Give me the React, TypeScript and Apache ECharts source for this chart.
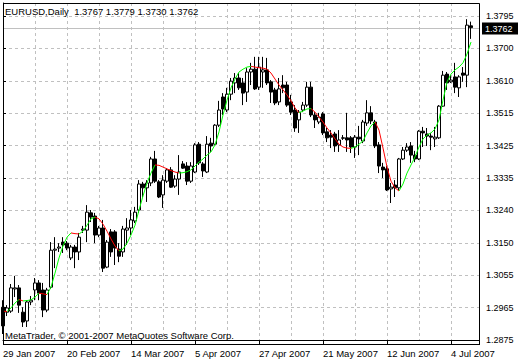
import React, { useEffect, useRef } from 'react';
import * as echarts from 'echarts';

const SYMBOL = 'EURUSD,Daily';
const COPYRIGHT = 'MetaTrader, \u00a9 2001-2007 MetaQuotes Software Corp.';

const opens = [
  1.2968, 1.2954, 1.2957, 1.3020, 1.3023, 1.2954, 1.2929, 1.2983, 1.3017, 1.3037,
  1.3017, 1.2960, 1.3025, 1.3130, 1.3136, 1.3153, 1.3150, 1.3108, 1.3139, 1.3125,
  1.3187, 1.3187, 1.3236, 1.3227, 1.3173, 1.3193, 1.3082, 1.3182, 1.3182, 1.3133,
  1.3125, 1.3187, 1.3193, 1.3213, 1.3244, 1.3318, 1.3307, 1.3321, 1.3389, 1.3324,
  1.3287, 1.3326, 1.3358, 1.3312, 1.3332, 1.3375, 1.3369, 1.3326, 1.3352, 1.3431,
  1.3375, 1.3352, 1.3434, 1.3431, 1.3485, 1.3565, 1.3528, 1.3573, 1.3605, 1.3619,
  1.3605, 1.3579, 1.3636, 1.3644, 1.3593, 1.3636, 1.3642, 1.3608, 1.3585, 1.3551,
  1.3599, 1.3599, 1.3551, 1.3528, 1.3500, 1.3528, 1.3542, 1.3593, 1.3514, 1.3494,
  1.3517, 1.3466, 1.3457, 1.3460, 1.3429, 1.3449, 1.3449, 1.3449, 1.3423, 1.3451,
  1.3440, 1.3491, 1.3520, 1.3494, 1.3429, 1.3366, 1.3361, 1.3304, 1.3315, 1.3307,
  1.3389, 1.3414, 1.3426, 1.3400, 1.3389, 1.3468, 1.3460, 1.3454, 1.3446, 1.3449,
  1.3539, 1.3630, 1.3608, 1.3622, 1.3591, 1.3633, 1.3627, 1.3767,
];
const highs = [
  1.2988, 1.2974, 1.3034, 1.3057, 1.3031, 1.2968, 1.2988, 1.3000, 1.3051, 1.3045,
  1.3037, 1.3023, 1.3153, 1.3167, 1.3150, 1.3167, 1.3156, 1.3145, 1.3145, 1.3179,
  1.3199, 1.3258, 1.3244, 1.3236, 1.3199, 1.3216, 1.3159, 1.3190, 1.3187, 1.3150,
  1.3199, 1.3221, 1.3244, 1.3253, 1.3329, 1.3324, 1.3329, 1.3395, 1.3412, 1.3329,
  1.3343, 1.3363, 1.3366, 1.3343, 1.3400, 1.3383, 1.3380, 1.3380, 1.3434, 1.3437,
  1.3380, 1.3454, 1.3449, 1.3488, 1.3554, 1.3576, 1.3591, 1.3619, 1.3633, 1.3633,
  1.3619, 1.3647, 1.3662, 1.3679, 1.3679, 1.3679, 1.3676, 1.3613, 1.3591, 1.3619,
  1.3627, 1.3608, 1.3571, 1.3542, 1.3528, 1.3551, 1.3608, 1.3608, 1.3522, 1.3520,
  1.3522, 1.3477, 1.3471, 1.3466, 1.3471, 1.3457, 1.3520, 1.3454, 1.3457, 1.3483,
  1.3500, 1.3556, 1.3539, 1.3500, 1.3437, 1.3378, 1.3369, 1.3321, 1.3329, 1.3392,
  1.3423, 1.3434, 1.3437, 1.3412, 1.3471, 1.3480, 1.3477, 1.3463, 1.3480, 1.3542,
  1.3639, 1.3636, 1.3627, 1.3662, 1.3627, 1.3650, 1.3786, 1.3779,
];
const lows = [
  1.2892, 1.2943, 1.2952, 1.2997, 1.2952, 1.2912, 1.2912, 1.2974, 1.2988, 1.2988,
  1.2940, 1.2954, 1.3020, 1.3079, 1.3125, 1.3122, 1.3130, 1.3102, 1.3079, 1.3102,
  1.3179, 1.3153, 1.3210, 1.3150, 1.3167, 1.3068, 1.3079, 1.3111, 1.3088, 1.3096,
  1.3111, 1.3145, 1.3173, 1.3207, 1.3236, 1.3281, 1.3267, 1.3312, 1.3321, 1.3278,
  1.3250, 1.3321, 1.3307, 1.3307, 1.3287, 1.3361, 1.3315, 1.3321, 1.3349, 1.3372,
  1.3338, 1.3349, 1.3409, 1.3429, 1.3480, 1.3514, 1.3522, 1.3556, 1.3576, 1.3585,
  1.3542, 1.3551, 1.3599, 1.3585, 1.3585, 1.3591, 1.3599, 1.3548, 1.3542, 1.3542,
  1.3576, 1.3537, 1.3514, 1.3466, 1.3463, 1.3522, 1.3537, 1.3508, 1.3477, 1.3488,
  1.3457, 1.3437, 1.3420, 1.3409, 1.3409, 1.3443, 1.3409, 1.3406, 1.3392, 1.3400,
  1.3434, 1.3483, 1.3488, 1.3420, 1.3349, 1.3335, 1.3298, 1.3264, 1.3281, 1.3301,
  1.3386, 1.3409, 1.3378, 1.3380, 1.3386, 1.3423, 1.3426, 1.3414, 1.3423, 1.3446,
  1.3537, 1.3585, 1.3605, 1.3576, 1.3565, 1.3608, 1.3593, 1.3730,
];
const closes = [
  1.2915, 1.2966, 1.3023, 1.3023, 1.2974, 1.2926, 1.2983, 1.2988, 1.3037, 1.3008,
  1.2960, 1.3017, 1.3130, 1.3133, 1.3139, 1.3145, 1.3136, 1.3139, 1.3125, 1.3167,
  1.3190, 1.3238, 1.3224, 1.3173, 1.3193, 1.3079, 1.3153, 1.3125, 1.3136, 1.3113,
  1.3190, 1.3193, 1.3216, 1.3238, 1.3318, 1.3307, 1.3321, 1.3389, 1.3326, 1.3281,
  1.3329, 1.3358, 1.3309, 1.3332, 1.3352, 1.3363, 1.3326, 1.3369, 1.3429, 1.3378,
  1.3355, 1.3431, 1.3426, 1.3485, 1.3528, 1.3531, 1.3573, 1.3610, 1.3619, 1.3591,
  1.3576, 1.3636, 1.3644, 1.3588, 1.3650, 1.3642, 1.3605, 1.3579, 1.3548, 1.3588,
  1.3591, 1.3542, 1.3522, 1.3477, 1.3522, 1.3542, 1.3593, 1.3514, 1.3500, 1.3508,
  1.3463, 1.3449, 1.3451, 1.3426, 1.3443, 1.3448, 1.3443, 1.3423, 1.3451, 1.3446,
  1.3494, 1.3520, 1.3497, 1.3426, 1.3369, 1.3358, 1.3301, 1.3309, 1.3307, 1.3389,
  1.3414, 1.3423, 1.3400, 1.3389, 1.3468, 1.3463, 1.3454, 1.3451, 1.3451, 1.3539,
  1.3627, 1.3605, 1.3613, 1.3593, 1.3622, 1.3627, 1.3769, 1.3762,
];
const maValues = [
  1.2957, 1.2956, 1.2966, 1.2980, 1.2990, 1.2986, 1.2987, 1.2989, 1.2997, 1.3008,
  1.3006, 1.3004, 1.3025, 1.3065, 1.3108, 1.3142, 1.3167, 1.3179, 1.3177, 1.3176,
  1.3184, 1.3201, 1.3219, 1.3224, 1.3219, 1.3204, 1.3184, 1.3162, 1.3142, 1.3128,
  1.3133, 1.3150, 1.3173, 1.3201, 1.3244, 1.3284, 1.3321, 1.3349, 1.3372, 1.3371,
  1.3366, 1.3361, 1.3356, 1.3352, 1.3349, 1.3350, 1.3353, 1.3358, 1.3369, 1.3380,
  1.3389, 1.3400, 1.3409, 1.3429, 1.3466, 1.3514, 1.3556, 1.3591, 1.3616, 1.3636,
  1.3644, 1.3650, 1.3652, 1.3650, 1.3648, 1.3647, 1.3644, 1.3633, 1.3616, 1.3599,
  1.3585, 1.3571, 1.3554, 1.3534, 1.3520, 1.3525, 1.3531, 1.3532, 1.3522, 1.3508,
  1.3494, 1.3477, 1.3463, 1.3446, 1.3431, 1.3423, 1.3420, 1.3419, 1.3423, 1.3431,
  1.3440, 1.3463, 1.3483, 1.3494, 1.3471, 1.3420, 1.3366, 1.3326, 1.3307, 1.3298,
  1.3318, 1.3349, 1.3372, 1.3395, 1.3423, 1.3446, 1.3457, 1.3463, 1.3474, 1.3500,
  1.3556, 1.3608, 1.3630, 1.3642, 1.3650, 1.3662, 1.3687, 1.3721,
];

const xTickLabels = [
  '29 Jan 2007', '20 Feb 2007', '14 Mar 2007', '5 Apr 2007',
  '27 Apr 2007', '21 May 2007', '12 Jun 2007', '4 Jul 2007',
];
const yTickLabels = [
  '1.2875', '1.2965', '1.3055', '1.3150', '1.3240', '1.3335',
  '1.3425', '1.3515', '1.3610', '1.3700', '1.3795',
];

// first grid line of the price axis, grid step, and top of the visible range
const BASE = 1.2875;
const STEP = 0.0092;
const Y_MAX = 1.38319;
const X_MAX = 119;
const BARS_PER_LABEL = 16;
const BARS_PER_GRID = 8;

const UP = '#00ff00';
const DOWN = '#ff0000';
const GRID_COLOR = '#c0c0c0';
const FONT = 'Liberation Sans, Arial, sans-serif';
const FS = 9.5;

export default function App() {
  const ref = useRef<HTMLDivElement>(null);

  useEffect(() => {
    if (!ref.current) return;
    const chart = echarts.init(ref.current, null, { renderer: 'svg' });
    const n = closes.length;
    const last = n - 1;

    const candles = opens.map((o, i) => [i, o - BASE, closes[i] - BASE, lows[i] - BASE, highs[i] - BASE]);
    const maData = maValues.map((v, i) => [i, v - BASE]);

    const pieces: any[] = [];
    for (let i = 0; i < maValues.length - 1; i++) {
      const color = maValues[i + 1] >= maValues[i] ? UP : DOWN;
      const prev = pieces[pieces.length - 1];
      if (prev && prev.color === color) prev.lt = i + 1;
      else pieces.push({ gte: i, lt: i + 1, color });
    }
    pieces[pieces.length - 1].lt = maValues.length + 5;

    const title = `${SYMBOL}  ${opens[last].toFixed(4)} ${highs[last].toFixed(4)} ${lows[last].toFixed(4)} ${closes[last].toFixed(4)}`;

    const baseGraphics: any[] = [
      {
        type: 'rect', z: 20, silent: true,
        shape: { x: 3.5, y: 3.5, width: 476, height: 341 },
        style: { fill: 'none', stroke: '#000', lineWidth: 1 },
      },
      {
        type: 'text', left: 5, top: 6, z: 10,
        style: { text: title, fontSize: FS, fontFamily: FONT, fill: '#000' },
      },
      {
        type: 'text', left: 5, top: 330, z: 10,
        style: { text: COPYRIGHT, fontSize: FS, fontFamily: FONT, fill: '#000' },
      },
    ];

    const option: any = {
      animation: false,
      backgroundColor: '#ffffff',
      textStyle: { fontFamily: FONT },
      grid: { left: 3, right: 41, top: 3, bottom: 20, show: false },
      xAxis: [
        {
          type: 'value', min: 0, max: X_MAX, interval: BARS_PER_LABEL, position: 'bottom', offset: 4,
          axisLine: { show: true, lineStyle: { color: '#000', width: 1 } },
          axisTick: { show: true, length: 5, lineStyle: { color: '#000' } },
          axisLabel: {
            show: true, align: 'left', margin: 4, color: '#000', fontSize: FS, fontFamily: FONT,
            formatter: (v: number) => {
              if (v % BARS_PER_LABEL !== 0) return '';
              return xTickLabels[v / BARS_PER_LABEL] ?? '';
            },
          },
          splitLine: { show: false },
        },
        {
          type: 'value', min: 0, max: X_MAX, interval: BARS_PER_GRID, position: 'top',
          axisLine: { show: false }, axisTick: { show: false }, axisLabel: { show: false },
          splitLine: { show: true, lineStyle: { color: GRID_COLOR, type: [3, 3], width: 1 } },
        },
      ],
      yAxis: {
        type: 'value', position: 'right', min: 0, max: Y_MAX - BASE, interval: STEP,
        axisLine: { show: true, lineStyle: { color: '#000', width: 1 } },
        axisTick: { show: true, length: 3, lineStyle: { color: '#000' } },
        axisLabel: {
          show: true, margin: 7, color: '#000', fontSize: 9, fontFamily: FONT, lineHeight: 9,
          verticalAlign: 'middle',
          formatter: (v: number) => {
            const k = Math.round(v / STEP);
            if (Math.abs(v - k * STEP) > 1e-6 || k < 0 || k >= yTickLabels.length) return '';
            return yTickLabels[k];
          },
        },
        splitLine: { show: true, lineStyle: { color: GRID_COLOR, type: [3, 3], width: 1 } },
      },
      visualMap: {
        show: false, type: 'piecewise', dimension: 0, seriesIndex: 1, pieces,
      },
      series: [
        {
          type: 'candlestick',
          xAxisIndex: 0,
          data: candles,
          encode: { x: 0, y: [1, 2, 3, 4] },
          barWidth: 3,
          clip: true,
          z: 3,
          itemStyle: {
            color: '#ffffff', color0: '#000000',
            borderColor: '#000000', borderColor0: '#000000', borderWidth: 1,
          },
        },
        {
          type: 'line',
          xAxisIndex: 0,
          data: maData,
          showSymbol: false,
          symbol: 'none',
          smooth: false,
          lineStyle: { width: 1 },
          z: 4,
        },
      ],
      graphic: baseGraphics,
    };
    chart.setOption(option);

    // bid line and price tag, placed through the price axis' own scale
    const py = chart.convertToPixel({ yAxisIndex: 0 }, closes[last] - BASE) as number;
    const tagY = Math.round(py);
    chart.setOption({
      graphic: [
        ...baseGraphics,
        {
          type: 'line', z: 1, silent: true,
          shape: { x1: 4, y1: tagY + 0.5, x2: 479, y2: tagY + 0.5 },
          style: { stroke: GRID_COLOR, lineWidth: 1 },
        },
        {
          type: 'group', z: 30, silent: true,
          children: [
            { type: 'rect', shape: { x: 482, y: tagY - 5.5, width: 36, height: 12 }, style: { fill: '#000' } },
            {
              type: 'text', x: 485, y: tagY + 0.5,
              style: {
                text: closes[last].toFixed(4), fill: '#fff', fontSize: 9, fontFamily: FONT,
                verticalAlign: 'middle', align: 'left',
              },
            },
          ],
        },
      ],
    });
    return () => chart.dispose();
  }, []);

  return (
    <div
      ref={ref}
      style={{ position: 'fixed', left: 0, top: 0, width: 520, height: 360, background: '#fff' }}
    />
  );
}
